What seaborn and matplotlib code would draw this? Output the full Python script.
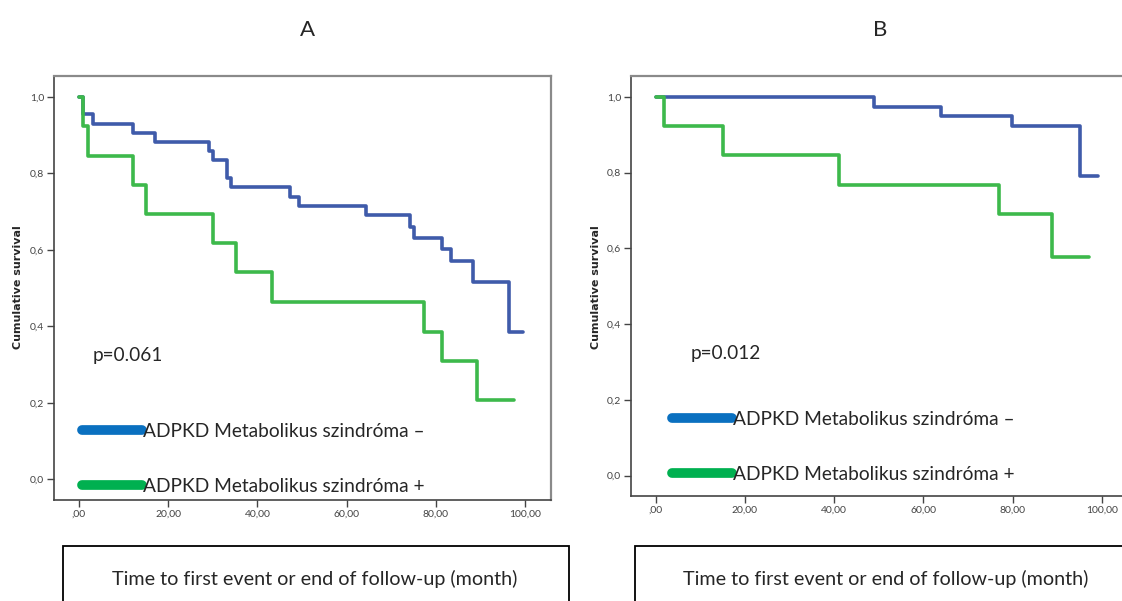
import pandas as pd
import matplotlib.pyplot as plt
import seaborn as sns
from matplotlib.lines import Line2D
from matplotlib.patches import Rectangle

# Data - Kaplan-Meier curves
# Panel A
a_neg_time = [0, 0.9, 3.1, 12.2, 17.1, 29.2, 30.0, 33.2, 34.1, 47.3, 49.3, 64.3, 74.3, 75.2, 81.4, 83.3, 88.3, 96.3, 99.6]
a_neg_surv = [1.0, 0.954, 0.929, 0.906, 0.882, 0.859, 0.835, 0.787, 0.763, 0.739, 0.714, 0.690, 0.660, 0.631, 0.601, 0.571, 0.516, 0.386, 0.386]
a_pos_time = [0, 1.0, 2.0, 12.2, 15.0, 30.1, 35.2, 43.2, 77.3, 81.3, 89.3, 97.5]
a_pos_surv = [1.0, 0.923, 0.846, 0.769, 0.693, 0.617, 0.541, 0.463, 0.385, 0.309, 0.207, 0.207]
# Panel B
b_neg_time = [0, 48.9, 63.9, 79.9, 95.0, 99.2]
b_neg_surv = [1.0, 0.974, 0.949, 0.923, 0.790, 0.790]
b_pos_time = [0, 1.9, 15.0, 41.0, 76.9, 88.9, 97.2]
b_pos_surv = [1.0, 0.922, 0.845, 0.768, 0.691, 0.576, 0.576]

p_values = ['p=0.061', 'p=0.012']
panel_titles = ['A', 'B']
group_labels = ['ADPKD Metabolikus szindróma \u2013', 'ADPKD Metabolikus szindróma +']
x_ticks = [0, 20, 40, 60, 80, 100]
x_ticklabels = [',00', '20,00', '40,00', '60,00', '80,00', '100,00']
y_ticks = [0.0, 0.2, 0.4, 0.6, 0.8, 1.0]
y_ticklabels = ['0,0', '0,2', '0,4', '0,6', '0,8', '1,0']
x_title = 'Time to first event or end of follow-up (month)'

curve_colors = {'neg': '#3F5BAA', 'pos': '#3DB94B'}
legend_colors = ['#0A70C0', '#00B050']

sns.set_style('white')
plt.rcParams['font.family'] = ['Lato', 'DejaVu Sans']

fig = plt.figure(figsize=(11.22, 6.01), dpi=100)
ax_a = fig.add_axes([0.0481, 0.168, 0.443, 0.706])
ax_b = fig.add_axes([0.5621, 0.1747, 0.443, 0.699])

panels = [
    (ax_a, a_neg_time, a_neg_surv, a_pos_time, a_pos_surv),
    (ax_b, b_neg_time, b_neg_surv, b_pos_time, b_pos_surv),
]
# positions of p-value text and legend (axes fraction) for each panel
p_pos = [(0.077, 0.34), (0.12, 0.339)]
leg_pos = [(0.057, 0.012), (0.084, 0.031)]

for i, (ax, nt, ns, pt, ps) in enumerate(panels):
    df = pd.concat([
        pd.DataFrame({'time': nt, 'surv': ns, 'grp': 'neg'}),
        pd.DataFrame({'time': pt, 'surv': ps, 'grp': 'pos'}),
    ])
    sns.lineplot(data=df, x='time', y='surv', hue='grp', palette=curve_colors,
                 drawstyle='steps-post', estimator=None, sort=False,
                 linewidth=2.6, legend=False, ax=ax)

    ax.set_xlim(-5.6, 105.8)
    ax.set_ylim(-0.054, 1.055)
    ax.set_xticks(x_ticks)
    ax.set_xticklabels(x_ticklabels)
    ax.set_yticks(y_ticks)
    ax.set_yticklabels(y_ticklabels)
    ax.set_xlabel('')
    ax.set_ylabel('')
    ax.tick_params(direction='out', length=5, width=1, colors='#444444',
                   labelsize=7.5, pad=2, bottom=True, left=True)
    for s in ['left', 'bottom']:
        ax.spines[s].set_color('#444444')
        ax.spines[s].set_linewidth(1.2)
    for s in ['top', 'right']:
        ax.spines[s].set_color('#8a8a8a')
        ax.spines[s].set_linewidth(1.6)

    # p-value
    ax.text(p_pos[i][0], p_pos[i][1], p_values[i],
            transform=ax.transAxes, fontsize=13.7, va='center', ha='left')

    # legend
    handles = [Line2D([], [], color=c, linewidth=7, solid_capstyle='round') for c in legend_colors]
    ax.legend(handles=handles, labels=group_labels, loc='lower left',
              bbox_to_anchor=leg_pos[i], frameon=False,
              fontsize=13.8, handlelength=3.1, handletextpad=0.08,
              labelspacing=2.0, borderpad=0, borderaxespad=0)

# y labels
for xp in [18, 596]:
    fig.text(xp / 1122, 1 - 287 / 601, 'Cumulative survival', rotation=90, fontsize=8,
             fontweight='bold', ha='center', va='center', family=['DejaVu Sans'])

# panel titles
fig.text(307 / 1122, 1 - 30 / 601, panel_titles[0], fontsize=16, ha='center', va='center')
fig.text(880 / 1122, 1 - 30 / 601, panel_titles[1], fontsize=16, ha='center', va='center')

# boxes with the x axis title
for x0, x1, xc in [(63, 569, 315), (635, 1137, 886)]:
    fig.add_artist(Rectangle((x0 / 1122, -0.05), (x1 - x0) / 1122, 0.05 + 55 / 601,
                             transform=fig.transFigure, fill=False,
                             edgecolor='black', linewidth=1.3))
    fig.text(xc / 1122, 1 - 579 / 601, x_title, fontsize=14.2, ha='center', va='center')

plt.savefig('out.png', dpi=100)
